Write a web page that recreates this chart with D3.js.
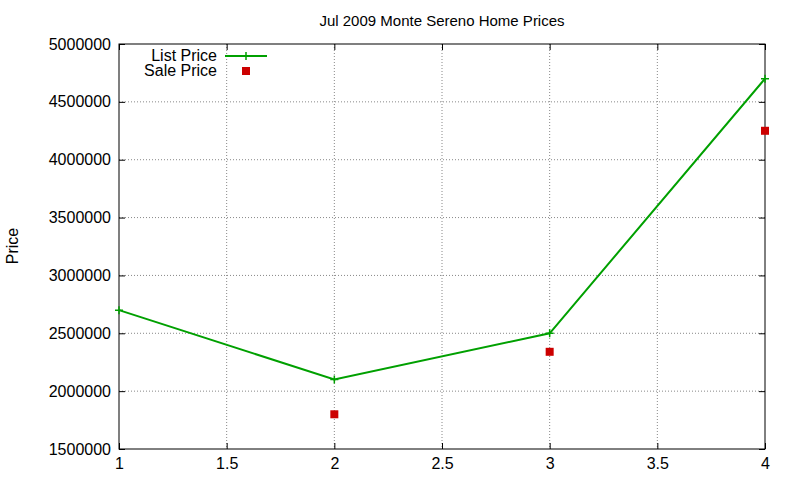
<!DOCTYPE html>
<html><head><meta charset="utf-8">
<script src="https://cdn.jsdelivr.net/npm/d3@7"></script>
<style>body{margin:0;background:#fff}text{font-family:"Liberation Sans",Arial,sans-serif;}</style>
</head><body><div id="chart"></div>
<script>
// chart data
var bedrooms = [1, 2, 3, 4];
var listPrice = [2700000, 2100000, 2500000, 4700000];
var saleX = [2, 3, 4];
var salePrice = [1800000, 2340000, 4250000];
var xTicks = [1, 1.5, 2, 2.5, 3, 3.5, 4];
var yTicks = [1500000, 2000000, 2500000, 3000000, 3500000, 4000000, 4500000, 5000000];

var W = 800, H = 480, L = 119, R = 765, T = 44, B = 449;
var svg = d3.select('#chart').append('svg').attr('width', W).attr('height', H);
var x = d3.scaleLinear().domain([1, 4]).range([L, R]);
var y = d3.scaleLinear().domain([1500000, 5000000]).range([B, T]);

// grid
svg.selectAll('.gx').data(xTicks.slice(1, -1)).enter().append('line')
  .attr('x1', d => x(d)).attr('x2', d => x(d)).attr('y1', T).attr('y2', B)
  .style('stroke', '#888').style('stroke-dasharray', '1,2');
svg.selectAll('.gy').data(yTicks.slice(1, -1)).enter().append('line')
  .attr('x1', L).attr('x2', R).attr('y1', d => y(d)).attr('y2', d => y(d))
  .style('stroke', '#888').style('stroke-dasharray', '1,2');

// axes, ticks inward, mirrored
var fmt = d => String(d);
svg.append('g').attr('transform', 'translate(0,' + B + ')')
  .call(d3.axisBottom(x).tickValues(xTicks).tickFormat(fmt).tickSizeInner(-6).tickSizeOuter(0).tickPadding(9));
svg.append('g').attr('transform', 'translate(0,' + T + ')')
  .call(d3.axisTop(x).tickValues(xTicks).tickFormat('').tickSizeInner(-6).tickSizeOuter(0));
svg.append('g').attr('transform', 'translate(' + L + ',0)')
  .call(d3.axisLeft(y).tickValues(yTicks).tickFormat(fmt).tickSizeInner(-6).tickSizeOuter(0).tickPadding(8));
svg.append('g').attr('transform', 'translate(' + R + ',0)')
  .call(d3.axisRight(y).tickValues(yTicks).tickFormat('').tickSizeInner(-6).tickSizeOuter(0));
svg.selectAll('.domain').remove();
svg.selectAll('.tick text').style('font-size', '16px').style('fill', '#000')
  .style('font-family', '"Liberation Sans",Arial,sans-serif');
svg.append('rect').attr('x', L).attr('y', T).attr('width', R - L).attr('height', B - T)
  .style('fill', 'none').style('stroke', '#000');

// title and label
svg.append('text').attr('x', 442).attr('y', 26).attr('text-anchor', 'middle')
  .style('font-size', '15px').text('Jul 2009 Monte Sereno Home Prices');
svg.append('text').attr('transform', 'translate(18,246) rotate(-90)').attr('text-anchor', 'middle')
  .style('font-size', '16px').text('Price');

var green = '#00a000', red = '#cc0000';
function plus(g, cx, cy) {
  g.append('path').attr('d', 'M' + (cx - 4) + ',' + cy + 'H' + (cx + 4) + 'M' + cx + ',' + (cy - 4) + 'V' + (cy + 4))
    .style('stroke', green).style('stroke-width', 1.5);
}
var line = d3.line().x((d, i) => x(bedrooms[i])).y(d => y(d));
svg.append('path').datum(listPrice).attr('d', line)
  .style('fill', 'none').style('stroke', green).style('stroke-width', 2);
listPrice.forEach((d, i) => plus(svg, x(bedrooms[i]), y(d)));
svg.selectAll('.sale').data(salePrice).enter().append('rect')
  .attr('x', (d, i) => x(saleX[i]) - 4).attr('y', d => y(d) - 4)
  .attr('width', 8).attr('height', 8).style('fill', red);

// legend
svg.append('text').attr('x', 217).attr('y', 61).attr('text-anchor', 'end').style('font-size', '16px').text('List Price');
svg.append('line').attr('x1', 225).attr('x2', 267).attr('y1', 56).attr('y2', 56).style('stroke', green).style('stroke-width', 2);
plus(svg, 246, 56);
svg.append('text').attr('x', 217).attr('y', 76).attr('text-anchor', 'end').style('font-size', '16px').text('Sale Price');
svg.append('rect').attr('x', 242).attr('y', 67).attr('width', 8).attr('height', 8).style('fill', red);
</script></body></html>
